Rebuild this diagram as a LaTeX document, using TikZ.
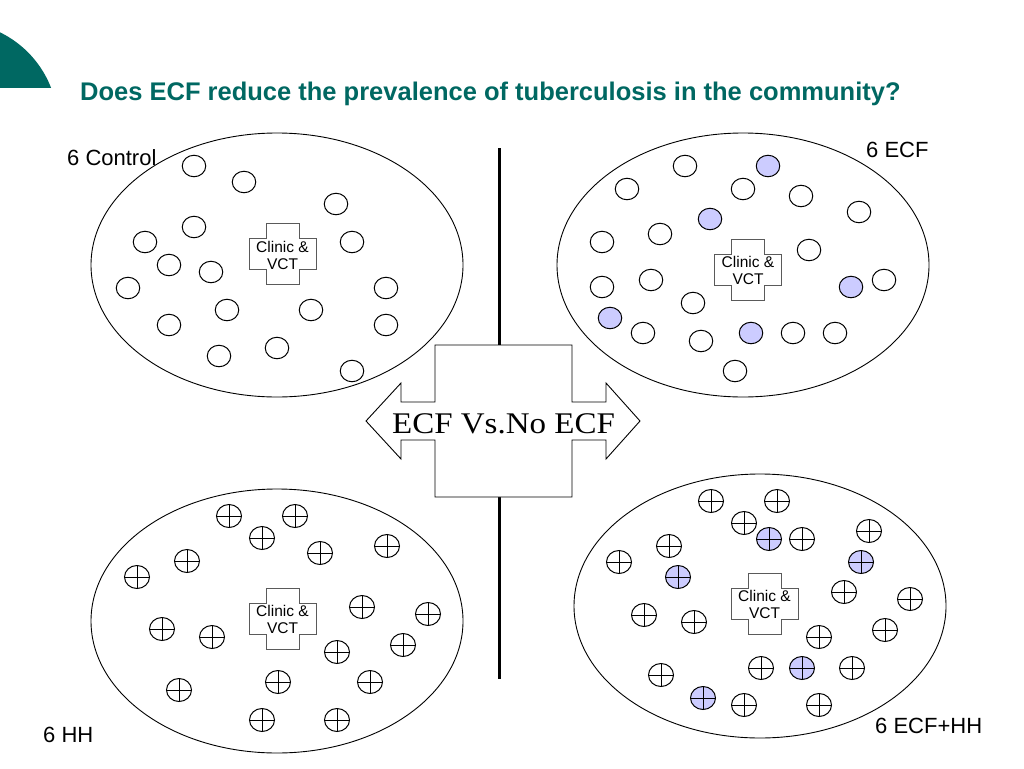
\documentclass[tikz,border=0pt]{standalone}
\usepackage{fontspec}
\setmainfont{Liberation Sans}
\newfontfamily\timesf{Liberation Serif}
\usetikzlibrary{shapes.geometric}
\definecolor{teal1}{RGB}{0,104,98}
\definecolor{lav}{RGB}{204,204,255}
\definecolor{crossgray}{RGB}{90,90,90}
\tikzset{
 big/.style={ellipse, draw=black, line width=0.9pt, minimum width=372pt, minimum height=264pt, inner sep=0},
 pc/.style={ellipse, draw=black, line width=1pt, minimum width=23.5pt, minimum height=21.5pt, inner sep=0},
 pcf/.style={pc, fill=lav},
 hh/.style={ellipse, draw=black, line width=1pt, minimum width=25pt, minimum height=23pt, inner sep=0,
   path picture={\draw[black, line width=1pt] (path picture bounding box.north) -- (path picture bounding box.south) (path picture bounding box.west) -- (path picture bounding box.east);}},
 hhf/.style={hh, fill=lav},
 lbl/.style={anchor=base west, inner sep=0, font=\fontsize{22}{26}\selectfont},
 clin/.style={anchor=base, inner sep=0, font=\fontsize{15.5}{18}\selectfont},
 crossline/.style={draw=crossgray, line width=1pt, fill=white},
 arrowshape/.style={draw=black, line width=0.9pt, fill=white},
 divider/.style={draw=black, line width=3pt},
}
\newcommand{\clinicat}[3]{%
 \draw[crossline] (#2-16.5,#3-30.5) -- (#2+16.5,#3-30.5) -- (#2+16.5,#3-15.5) -- (#2+33.5,#3-15.5) -- (#2+33.5,#3+15.5) -- (#2+16.5,#3+15.5) -- (#2+16.5,#3+30.5) -- (#2-16.5,#3+30.5) -- (#2-16.5,#3+15.5) -- (#2-33.5,#3+15.5) -- (#2-33.5,#3-15.5) -- (#2-16.5,#3-15.5) -- cycle;
 \node[clin] (#1a) at (#2,#3-2) {Clinic \&};
 \node[clin] (#1b) at (#2,#3+15) {VCT};
}
\begin{document}
\begin{tikzpicture}[x=1pt,y=-1pt]
\useasboundingbox[fill=white] (0,0) rectangle (1024,768);
% corner decoration
\begin{scope}
\clip (0,0) rectangle (120,87);
\fill[teal1] (-45,125) circle [radius=103];
\end{scope}
% title
\node[anchor=base west, inner sep=0, text=teal1, font=\bfseries\fontsize{25.5}{30}\selectfont] (title) at (80,100) {Does ECF reduce the prevalence of tuberculosis in the community?};
% big ellipses
\node[big] (E1) at (277,265) {};
\node[big] (E2) at (743,265) {};
\node[big] (E3) at (277,621) {};
\node[big] (E4) at (760,606) {};
% divider
\coordinate (vt1) at (499,148);
\coordinate (vt2) at (499,345);
\coordinate (vb1) at (499,497);
\coordinate (vb2) at (499,679);
\draw[divider] (vt1) -- (vt2);
\draw[divider] (vb1) -- (vb2);
% double arrow
\draw[arrowshape] (435,345) -- (572,345) -- (572,402) -- (606,402) -- (606,383) -- (640,421) -- (606,459) -- (606,440) -- (572,440) -- (572,497) -- (435,497) -- (435,440) -- (401,440) -- (401,459) -- (366,421) -- (401,383) -- (401,402) -- (435,402) -- cycle;
\node[anchor=base, inner sep=0, font=\timesf\fontsize{30}{34}\selectfont] (vs) at (503.5,433) {\scalebox{1.1}[1]{ECF Vs.No ECF}};
% clinics
\clinicat{c1}{282.5}{254}
\clinicat{c2}{748}{269.5}
\clinicat{c3}{282.5}{618.5}
\clinicat{c4}{764.5}{603.5}
% labels
\node[lbl] (l1) at (67,165) {6 Control};
\node[lbl] (l2) at (866,157) {6 ECF};
\node[lbl] (l3) at (43,742) {6 HH};
\node[lbl] (l4) at (875,733) {6 ECF+HH};
% top-left circles
\foreach \x/\y [count=\i] in {194/166,244/182,336/204,194/227,145/242,352/242,169/265,211/272,128/288,386/288,227/310,311/310,169/325,386/325,277/348,219/356,352/371}
  \node[pc] (a\i) at (\x,\y) {};
% top-right circles
\foreach \x/\y [count=\i] in {685/166,627/189,743/189,801/196,859/212,660/234,602/242,809/250,651/280,602/287,884/280,693/303,643/333,701/341,793/333,835/333,735/371}
  \node[pc] (b\i) at (\x,\y) {};
\foreach \x/\y [count=\i] in {768/166,710/219,851/287,610/318,751/333}
  \node[pcf] (bf\i) at (\x,\y) {};
% bottom-left HH circles
\foreach \x/\y [count=\i] in {229/516,295/516,262/538,320/553,387/546,187/561,137/577,362/607,428/614,162/629,212/637,337/652,403/645,179/690,278/682,370/682,262/720,337/720}
  \node[hh] (c\i) at (\x,\y) {};
% bottom-right HH circles
\foreach \x/\y [count=\i] in {711/501,777/501,744/523,802/539,869/531,669/546,619/562,844/592,910/599,644/615,694/622,885/630,819/637,761/668,852/668,661/675,744/705,819/705}
  \node[hh] (d\i) at (\x,\y) {};
\foreach \x/\y [count=\i] in {769/539,678/577,861/562,802/668,703/698}
  \node[hhf] (df\i) at (\x,\y) {};
\end{tikzpicture}
\end{document}
